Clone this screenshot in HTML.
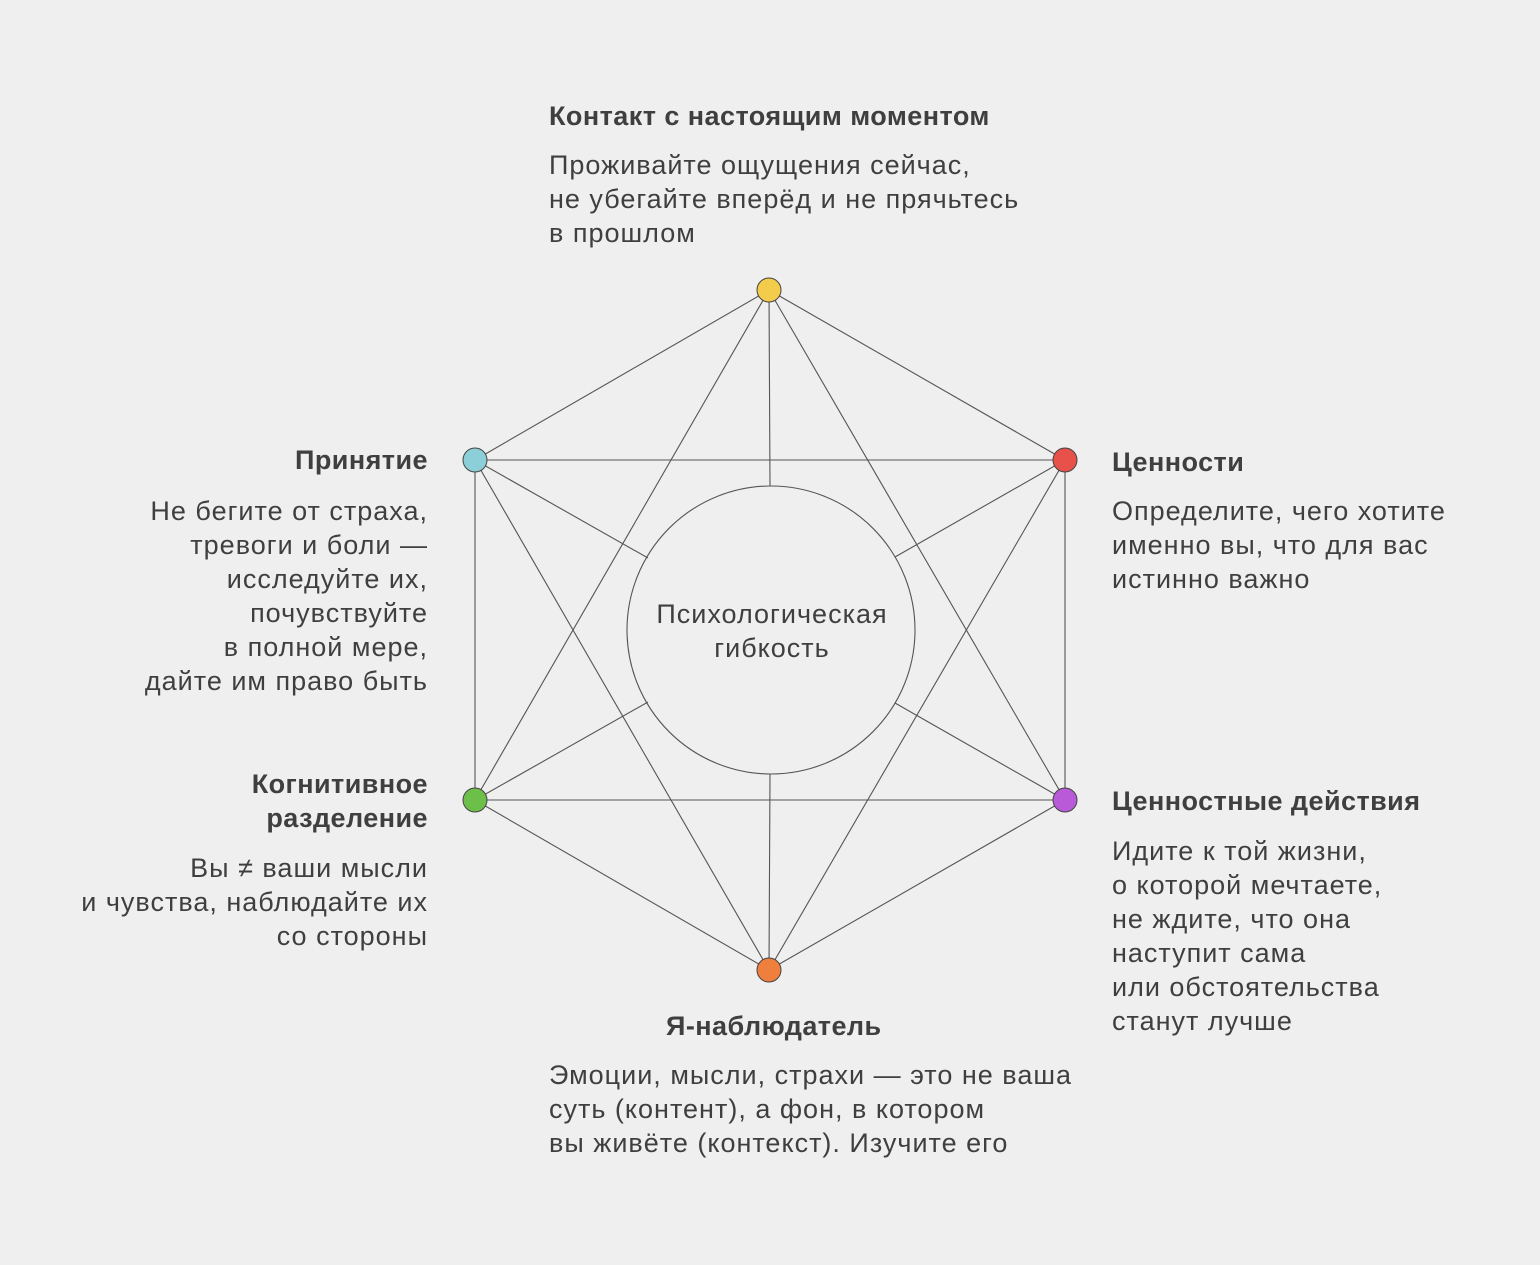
<!DOCTYPE html>
<html><head><meta charset="utf-8"><style>
body{margin:0;width:1540px;height:1265px;background:#efefef;font-family:"Liberation Sans",sans-serif;color:#3f3f3f;position:relative;overflow:hidden}
.t{position:absolute;font-size:27px;letter-spacing:1px;line-height:34px;white-space:nowrap}
.b{position:absolute;font-size:27px;letter-spacing:0.45px;font-weight:bold;line-height:34px;white-space:nowrap}
.r{text-align:right}
</style></head><body>
<svg width="1540" height="1265" style="position:absolute;left:0;top:0">
<g stroke="#555" stroke-width="1.1" fill="none">
<polygon points="769,290 1065,460 1065,800 769,970 475,800 475,460"/>
<polygon points="769,290 1065,800 475,800"/>
<polygon points="769,970 475,460 1065,460"/>
<line x1="769" y1="290" x2="770" y2="486"/>
<line x1="769" y1="970" x2="770" y2="774"/>
<line x1="475" y1="460" x2="648" y2="558"/>
<line x1="1065" y1="460" x2="895" y2="557"/>
<line x1="475" y1="800" x2="648" y2="702"/>
<line x1="1065" y1="800" x2="895" y2="703"/>
<circle cx="771" cy="630" r="144"/>
</g>
<g stroke="#444" stroke-width="1">
<circle cx="769" cy="290" r="12" fill="#f2cc4a"/>
<circle cx="1065" cy="460" r="12" fill="#e8504a"/>
<circle cx="1065" cy="800" r="12" fill="#b95ad8"/>
<circle cx="769" cy="970" r="12" fill="#ef7f3c"/>
<circle cx="475" cy="800" r="12" fill="#6cc04a"/>
<circle cx="475" cy="460" r="12" fill="#8ccfd9"/>
</g>
</svg>
<div class="t" style="top:597px;left:572px;width:400px;text-align:center">Психологическая<br>гибкость</div>
<div class="b" style="left:549px;top:99px">Контакт с настоящим моментом</div>
<div class="t" style="left:549px;top:148px">Проживайте ощущения сейчас,<br>не убегайте вперёд и не прячьтесь<br>в прошлом</div>
<div class="b" style="left:1112px;top:445px">Ценности</div>
<div class="t" style="left:1112px;top:494px">Определите, чего хотите<br>именно вы, что для вас<br>истинно важно</div>
<div class="b" style="left:1112px;top:784px">Ценностные действия</div>
<div class="t" style="left:1112px;top:834px">Идите к той жизни,<br>о которой мечтаете,<br>не ждите, что она<br>наступит сама<br>или обстоятельства<br>станут лучше</div>
<div class="b" style="left:666px;top:1009px">Я-наблюдатель</div>
<div class="t" style="left:549px;top:1058px">Эмоции, мысли, страхи — это не ваша<br>суть (контент), а фон, в котором<br>вы живёте (контекст). Изучите его</div>
<div class="b r" style="right:1112px;top:443px">Принятие</div>
<div class="t r" style="right:1112px;top:494px">Не бегите от страха,<br>тревоги и боли —<br>исследуйте их,<br>почувствуйте<br>в полной мере,<br>дайте им право быть</div>
<div class="b r" style="right:1112px;top:767px">Когнитивное<br>разделение</div>
<div class="t r" style="right:1112px;top:851px">Вы ≠ ваши мысли<br>и чувства, наблюдайте их<br>со стороны</div>
</body></html>
